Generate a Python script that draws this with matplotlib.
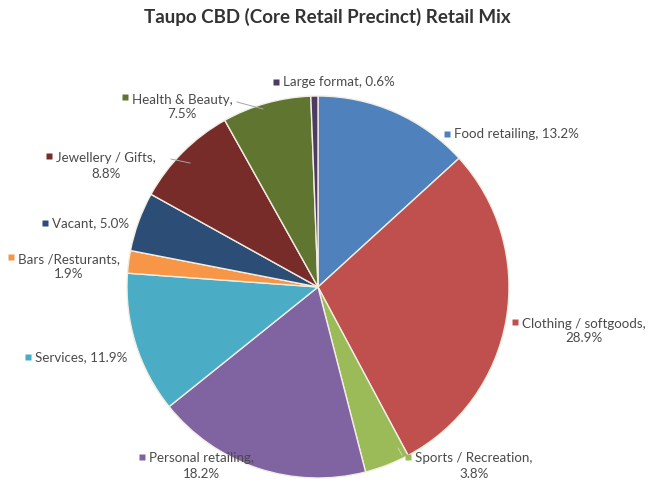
import matplotlib.pyplot as plt

categories = ['Food retailing', 'Clothing / softgoods', 'Sports / Recreation',
              'Personal retailing', 'Services', 'Bars /Resturants', 'Vacant',
              'Jewellery / Gifts', 'Health & Beauty', 'Large format']
shares = [13.2, 28.9, 3.8, 18.2, 11.9, 1.9, 5.0, 8.8, 7.5, 0.6]
colors = ['#4F81BD', '#C0504D', '#9BBB59', '#8064A2', '#4BACC6', '#F79646',
          '#2C4D75', '#772C2A', '#5F7530', '#4D3B62']

W, H = 655, 486
fig = plt.figure(figsize=(W / 100, H / 100), dpi=100)
ax = fig.add_axes([0, 0, 1, 1])

cx, cy, r = 318, H - 287, 191
ax.pie(shares, colors=colors, startangle=90, counterclock=False,
       center=(cx, cy), radius=r,
       wedgeprops=dict(edgecolor='#f2eee4', linewidth=1.0))
ax.set_xlim(0, W)
ax.set_ylim(0, H)
ax.set_aspect('equal')
ax.axis('off')

# label layout in pixel coords (x, y from top), two-line flag
layout = [
    (444, 134, False),
    (512, 331, True),
    (405, 466, True),
    (139, 466, True),
    (25, 357, False),
    (8, 267, True),
    (42, 223, False),
    (46, 166, True),
    (122, 107, True),
    (273, 82, False),
]

tfont = dict(family=['Lato', 'DejaVu Sans'], fontsize=9.6, color='#4a4a4a')
for name, val, col, (x, y, two) in zip(categories, shares, colors, layout):
    if two:
        txt = f'{name},\n{val:.1f}%'
        y0 = y - 9.5
    else:
        txt = f'{name}, {val:.1f}%'
        y0 = y
    ax.plot(x + 3, H - y0, marker='s', ms=4.5, color=col, mec='none')
    ax.text(x + 10, H - y, txt, ha='left', va='center',
            multialignment='center', linespacing=1.3, **tfont)

# leader lines
ax.plot([237, 263], [H - 102, H - 109], color='#a6a6a6', lw=0.7)
ax.plot([171, 190], [H - 159, H - 163], color='#a6a6a6', lw=0.7)
ax.plot([402, 398], [H - 455, H - 448], color='#c8d8a8', lw=0.7)

fig.text(0.5, 1 - 17 / H, 'Taupo CBD (Core Retail Precinct) Retail Mix',
         ha='center', va='center', fontsize=13.5, fontweight='bold',
         color='#333333', family=['Lato', 'DejaVu Sans'])

fig.savefig('out.png', dpi=100)
